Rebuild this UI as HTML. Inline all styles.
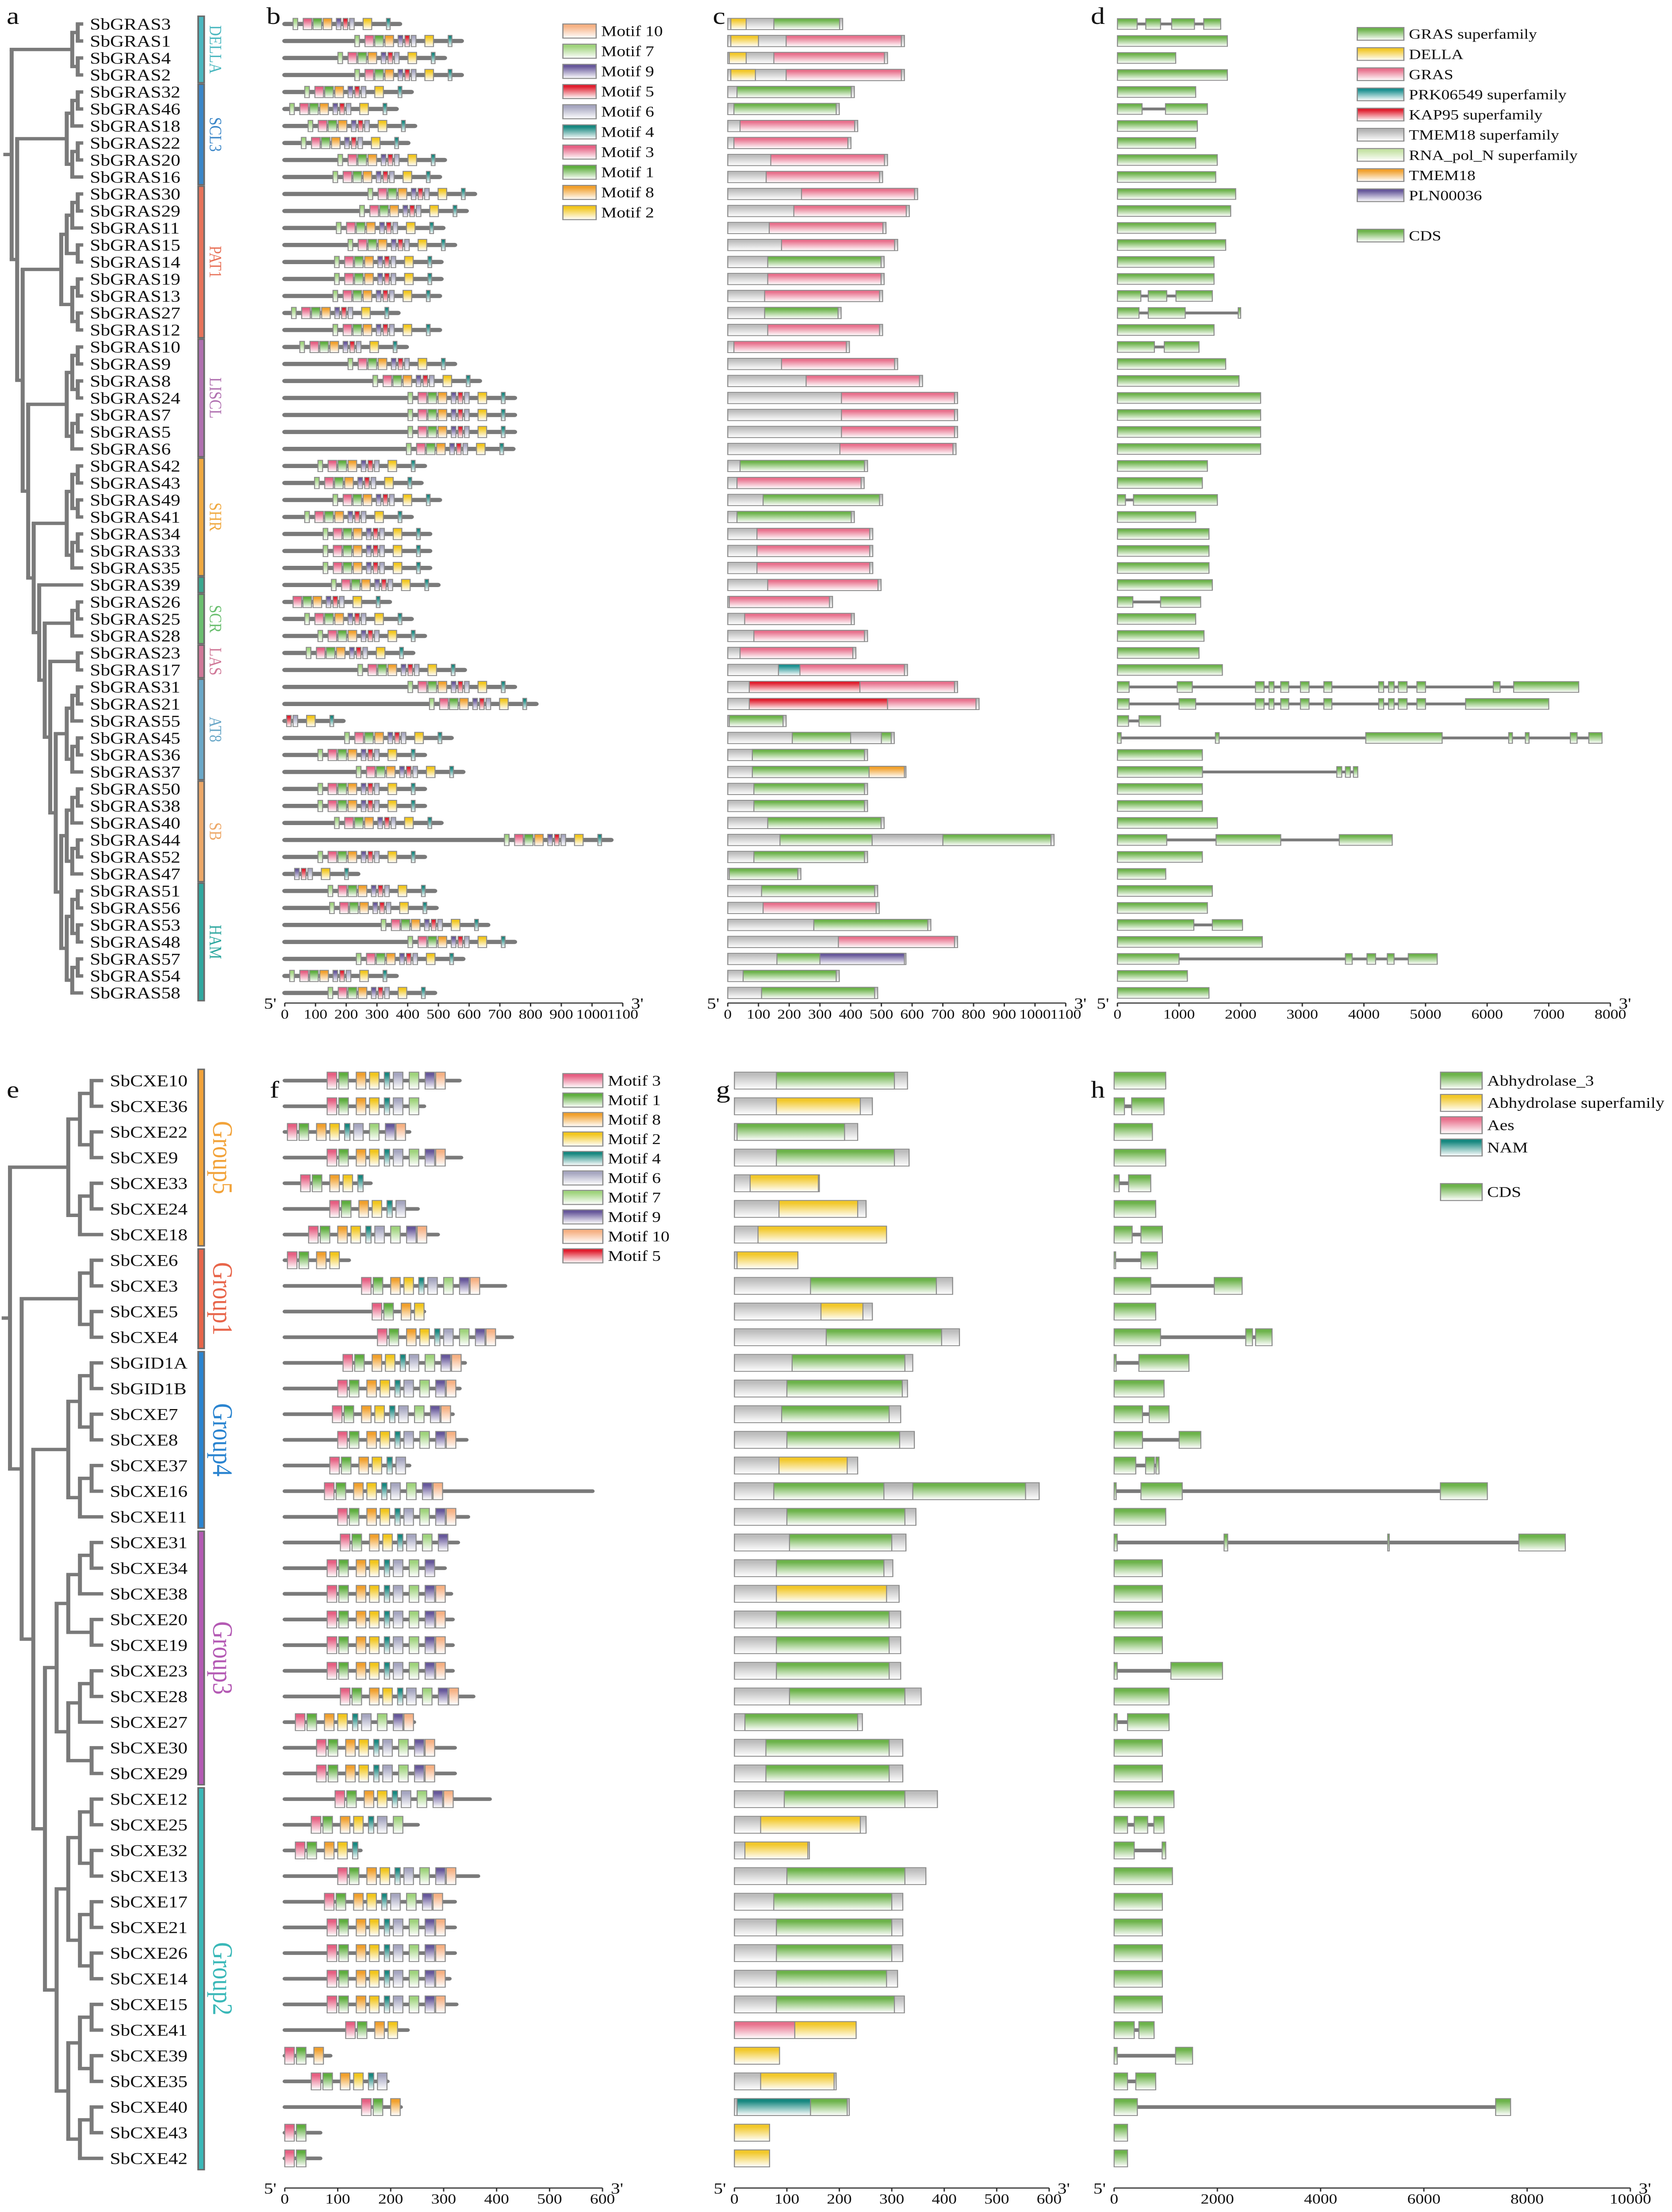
<!DOCTYPE html>
<html><head><meta charset="utf-8"><title>SbGRAS and SbCXE gene families: phylogeny, motifs, domains and gene structures</title>
<style>
html,body{margin:0;padding:0;background:#fff;width:100vw;height:100vh;overflow:hidden;}
svg{display:block;position:absolute;left:0;top:0;width:100vw;height:100vh;font-family:"Liberation Serif",serif;}
</style></head>
<body>
<svg id="fig" xmlns="http://www.w3.org/2000/svg" viewBox="0 0 1004 1568" preserveAspectRatio="none">
<defs id="defs"></defs>
<g id="root"></g>
</svg>
<script>
// ---------- TOP (GRAS) DATA ----------
const grasNames=["SbGRAS3","SbGRAS1","SbGRAS4","SbGRAS2","SbGRAS32","SbGRAS46","SbGRAS18","SbGRAS22","SbGRAS20","SbGRAS16","SbGRAS30","SbGRAS29","SbGRAS11","SbGRAS15","SbGRAS14","SbGRAS19","SbGRAS13","SbGRAS27","SbGRAS12","SbGRAS10","SbGRAS9","SbGRAS8","SbGRAS24","SbGRAS7","SbGRAS5","SbGRAS6","SbGRAS42","SbGRAS43","SbGRAS49","SbGRAS41","SbGRAS34","SbGRAS33","SbGRAS35","SbGRAS39","SbGRAS26","SbGRAS25","SbGRAS28","SbGRAS23","SbGRAS17","SbGRAS31","SbGRAS21","SbGRAS55","SbGRAS45","SbGRAS36","SbGRAS37","SbGRAS50","SbGRAS38","SbGRAS40","SbGRAS44","SbGRAS52","SbGRAS47","SbGRAS51","SbGRAS56","SbGRAS53","SbGRAS48","SbGRAS57","SbGRAS54","SbGRAS58"];
const grasProtLen=[374,575,520,575,412,363,423,401,520,504,618,591,515,553,509,509,504,369,504,396,553,634,748,748,748,743,455,444,504,412,472,472,472,499,341,412,455,417,585,748,818,190,542,455,580,455,455,509,1062,455,238,488,493,661,748,580,363,488];
const grasDomStart=[150,190,150,190,30,20,40,20,140,125,240,215,135,175,130,130,120,120,130,20,175,255,370,370,370,365,40,30,115,30,95,95,95,130,5,55,85,40,200,430,520,5,210,80,80,85,85,130,700,85,5,110,115,280,360,160,50,110];
const grasDomType=["G","P","P","P","G","G","P","P","P","P","P","P","P","P","G","P","P","G","P","P","P","P","P","P","P","P","G","P","G","G","P","P","P","P","P","P","P","P","P","P","P","G","G","G","G","G","G","G","G","G","G","G","P","G","P","G","G","G"];
const grasExtraGene=["SbGRAS3","SbGRAS1","SbGRAS4","SbGRAS2","SbGRAS17","SbGRAS31","SbGRAS21","SbGRAS37","SbGRAS44","SbGRAS44","SbGRAS45","SbGRAS57"];
const grasExtraType=["D","D","D","D","T","K","K","O","G","S","S","U"];
const grasExtraStart=[10,10,5,10,165,70,70,460,170,470,400,300];
const grasExtraEnd=[60,100,60,90,235,430,520,575,470,700,500,575];
const grasGeneLen=[1676,1784,946,1784,1270,1460,1297,1270,1620,1595,1919,1838,1595,1757,1568,1568,1540,2000,1568,1324,1757,1973,2324,2324,2324,2324,1460,1378,1622,1270,1486,1486,1486,1540,1351,1270,1405,1324,1703,7486,7000,700,7865,1378,3900,1378,1378,1622,4460,1378,784,1540,1460,2030,2351,5190,1135,1486];
const grasExons={
"SbGRAS3":[[0,320],[460,700],[880,1250],[1400,1676]],
"SbGRAS46":[[0,400],[780,1460]],
"SbGRAS13":[[0,380],[500,800],[950,1540]],
"SbGRAS27":[[0,350],[500,1100],[1960,2000]],
"SbGRAS10":[[0,600],[760,1324]],
"SbGRAS26":[[0,250],[700,1351]],
"SbGRAS49":[[0,130],[260,1622]],
"SbGRAS31":[[0,190],[970,1215],[2240,2380],[2460,2540],[2650,2780],[2970,3110],[3350,3480],[4240,4320],[4400,4490],[4560,4700],[4860,5000],[6100,6210],[6430,7486]],
"SbGRAS21":[[0,190],[1000,1270],[2240,2380],[2460,2540],[2650,2780],[2970,3110],[3350,3480],[4240,4320],[4400,4490],[4560,4700],[4860,5000],[5650,7000]],
"SbGRAS45":[[0,60],[1590,1650],[4030,5270],[6350,6410],[6620,6680],[7350,7460],[7650,7865]],
"SbGRAS37":[[0,1380],[3560,3640],[3700,3780],[3830,3900]],
"SbGRAS44":[[0,800],[1600,2650],[3600,4460]],
"SbGRAS57":[[0,1000],[3700,3810],[4050,4190],[4380,4490],[4720,5190]],
"SbGRAS53":[[0,1240],[1540,2030]],
"SbGRAS55":[[0,180],[350,700]]
};
const grasMotifIds=[7,3,1,8,9,5,6,2,4];
const grasMotifFromEnd=[347,314,282,249,206,184,163,119,43];
const grasMotifLen=[15,28,28,28,15,15,15,28,12];
const grasClades=[["DELLA",0,3,"#4bb8c0"],["SCL3",4,9,"#3a86c8"],["PAT1",10,18,"#e8735a"],["LISCL",19,25,"#b070b0"],["SHR",26,32,"#f0a940"],["",33,33,"#3aa890"],["SCR",34,36,"#6bbf70"],["LAS",37,38,"#d07898"],["AT8",39,44,"#6aa8c8"],["SB",45,50,"#eda868"],["HAM",51,57,"#30a8a0"]];
const topAxisTicks=[0,100,200,300,400,500,600,700,800,900,1000,1100];
const geneAxisTicks=[0,1000,2000,3000,4000,5000,6000,7000,8000];

// ---------- BOTTOM (CXE) DATA ----------
const cxeNames=["SbCXE10","SbCXE36","SbCXE22","SbCXE9","SbCXE33","SbCXE24","SbCXE18","SbCXE6","SbCXE3","SbCXE5","SbCXE4","SbGID1A","SbGID1B","SbCXE7","SbCXE8","SbCXE37","SbCXE16","SbCXE11","SbCXE31","SbCXE34","SbCXE38","SbCXE20","SbCXE19","SbCXE23","SbCXE28","SbCXE27","SbCXE30","SbCXE29","SbCXE12","SbCXE25","SbCXE32","SbCXE13","SbCXE17","SbCXE21","SbCXE26","SbCXE14","SbCXE15","SbCXE41","SbCXE39","SbCXE35","SbCXE40","SbCXE43","SbCXE42"];
const cxeProtLen=[330,263,235,333,162,251,289,121,416,263,429,340,330,317,343,235,581,346,327,302,314,317,317,317,356,244,321,321,387,251,143,365,321,321,321,311,324,232,86,194,219,67,67];
const cxeDomStart=[80,80,5,80,30,85,45,5,145,165,175,110,100,90,100,85,75,100,105,80,80,80,80,80,105,20,60,60,95,50,20,100,75,80,80,80,80,115,0,50,145,0,0];
const cxeDomEnd=[305,240,210,305,160,235,290,121,385,245,395,325,320,295,315,215,555,325,300,285,290,295,295,295,325,235,295,295,325,240,140,325,300,300,300,290,305,232,86,190,215,67,67];
const cxeDomType=["G","Y","G","G","Y","Y","Y","Y","G","Y","G","G","G","G","G","Y","G","G","G","G","Y","G","G","G","G","G","G","G","G","Y","Y","G","G","G","G","G","G","Y","Y","Y","G","Y","Y"];
const cxeExtraGene=["SbCXE16","SbCXE41","SbCXE40"];
const cxeExtraType=["S","A","N"];
const cxeExtraStart=[285,0,5];
const cxeExtraEnd=[340,115,145];
const cxeGeneLen=[1000,968,742,1000,710,806,935,840,2480,806,3060,1450,968,1065,1680,870,7230,1000,8740,935,935,935,935,2100,1065,1065,935,935,1160,968,1000,1130,935,935,935,935,935,775,1520,806,7680,260,260];
const cxeExons={
"SbCXE36":[[0,200],[340,968]],
"SbCXE33":[[0,100],[280,710]],
"SbCXE18":[[0,350],[520,935]],
"SbCXE6":[[0,30],[520,840]],
"SbCXE3":[[0,710],[1940,2480]],
"SbCXE4":[[0,900],[2550,2680],[2740,3060]],
"SbGID1A":[[0,40],[480,1450]],
"SbCXE7":[[0,550],[680,1065]],
"SbCXE8":[[0,550],[1260,1680]],
"SbCXE37":[[0,420],[610,780],[810,870]],
"SbCXE16":[[0,40],[520,1320],[6320,7230]],
"SbCXE31":[[0,60],[2130,2200],[5300,5330],[7840,8740]],
"SbCXE23":[[0,60],[1100,2100]],
"SbCXE27":[[0,60],[260,1065]],
"SbCXE25":[[0,260],[390,650],[770,968]],
"SbCXE32":[[0,390],[930,1000]],
"SbCXE41":[[0,390],[480,775]],
"SbCXE39":[[0,60],[1190,1520]],
"SbCXE35":[[0,260],[420,806]],
"SbCXE40":[[0,450],[7390,7680]]
};
const cxeMotifIds=[3,1,8,2,4,6,7,9,10];
const cxeMotifFromDom=[0,22,55,80,108,125,155,185,205];
const cxeMotifLen=[18,18,18,18,10,18,18,18,18];
const cxeClades=[["Group5",0,6,"#f2a33a"],["Group1",7,10,"#e8654a"],["Group4",11,17,"#2a84d0"],["Group3",18,27,"#b45ab4"],["Group2",28,42,"#3ab8b8"]];
const cxeAxisTicks=[0,100,200,300,400,500,600];
const cxeGeneTicks=[0,2000,4000,6000,8000,10000];

// ---------- STYLE ----------
const motifColor={10:"#f6b183",7:"#9fd37c",9:"#66579a",5:"#e01e2e",6:"#a6a6c0",4:"#16877f",3:"#e65f82",1:"#5eae3e",8:"#f1a02c",2:"#f2c61c"};
const domColor={G:"#6cb34a",P:"#e8708c",D:"#f2c82a",T:"#1a9090",K:"#e01e2e",S:"#b4b4b4",R:"#c5e2a4",O:"#f1a02c",U:"#66579a",Y:"#f2c82a",A:"#e8708c",N:"#16877f",X:"#bdbdbd",C:"#6cb34a"};
const NS="http://www.w3.org/2000/svg";
const root=document.getElementById('root');
const defs=document.getElementById('defs');
function mk(tag,attrs,parent){const e=document.createElementNS(NS,tag);for(const k in attrs)e.setAttribute(k,attrs[k]);(parent||root).appendChild(e);return e;}
function grad(id,c){const g=mk('linearGradient',{id:id,x1:0,y1:0,x2:0,y2:1},defs);mk('stop',{offset:'0',"stop-color":c},g);mk('stop',{offset:'0.15',"stop-color":c},g);mk('stop',{offset:'1',"stop-color":'#ffffff'},g);}
for(const k in motifColor)grad('m'+k,motifColor[k]);
for(const k in domColor)grad('d'+k,domColor[k]);
function box(x,y,w,h,fillId,name){const r=mk('rect',{x:x,y:y,width:Math.max(w,0.6),height:h,fill:'url(#'+fillId+')',stroke:'#8a8a8a','stroke-width':0.6});


return r;}
function txt(x,y,s,size,opts){const t=mk('text',Object.assign({x:x,y:y,'font-size':size,fill:'#111'},opts||{}));t.textContent=s;return t;}

const letters=[["a",4,17],["b",160,17],["c",428,17],["d",655,17],["e",4,778],["f",162,778],["g",430,778],["h",655,778]];
letters.forEach(l=>{const t=txt(l[1],l[2],l[0],17);

});

function drawTree(n,rowY,clades,leafX,rootX,prefix){
  function build(lo,hi){if(lo===hi)return {y:rowY(lo),h:0,leaf:true};const m=Math.floor((lo+hi)/2);const a=build(lo,m),b=build(m+1,hi);return {a:a,b:b,y:(a.y+b.y)/2,h:Math.max(a.h,b.h)+1};}
  const cl=clades.map(c=>build(c[1],c[2]));
  let node=cl[cl.length-1];
  for(let i=cl.length-2;i>=0;i--){const a=cl[i];node={a:a,b:node,y:(a.y+node.y)/2,h:Math.max(a.h,node.h)+1};}
  const maxH=node.h;const X=h=>leafX-h*(leafX-rootX)/maxH;
  const g=mk('g',{stroke:'#7a7a7a','stroke-width':2.4,fill:'none'});
  
  
  function draw(nd){if(nd.leaf)return;const x=X(nd.h);
    mk('line',{x1:x,y1:nd.a.y,x2:x,y2:nd.b.y},g);
    [nd.a,nd.b].forEach(c=>{mk('line',{x1:x-1.2,y1:c.y,x2:c.leaf?leafX:X(c.h),y2:c.y},g);draw(c);});}
  draw(node);
  mk('line',{x1:rootX-5,y1:node.y,x2:rootX,y2:node.y},g);
}

const topY=i=>17+i*12.05;
const bx=a=>171+a*0.1845, cx=a=>437+a*0.1845, dx=b=>671+b*0.037;
drawTree(grasNames.length,topY,grasClades,50,7,'gras');
grasNames.forEach((nm,i)=>{const y=topY(i);
  const t=txt(54,y+4,nm,11.5);
  
  
  const L=grasProtLen[i];
  const ln=mk('line',{x1:bx(0),y1:y,x2:bx(L),y2:y,stroke:'#7a7a7a','stroke-width':3,'stroke-linecap':'round'});
  
  
  grasMotifIds.forEach((m,k)=>{const s=L-grasMotifFromEnd[k];if(s<0)return;
    box(bx(s),y-4,grasMotifLen[k]*0.1845,8,'m'+m,'motif-'+m+'-'+nm.toLowerCase());});
  box(cx(0),y-4,L*0.1845,8,'dX','protein-box-'+nm.toLowerCase());
  box(cx(grasDomStart[i]),y-4,(L-10-grasDomStart[i])*0.1845,8,'d'+grasDomType[i],'domain-'+nm.toLowerCase());
  grasExtraGene.forEach((g,k)=>{if(g!==nm)return;box(cx(grasExtraStart[k]),y-4,(grasExtraEnd[k]-grasExtraStart[k])*0.1845,8,'d'+grasExtraType[k],'extra-domain-'+nm.toLowerCase());});
  const GL=grasGeneLen[i];const ex=grasExons[nm]||[[0,GL]];
  if(ex.length>1){const il=mk('line',{x1:dx(0),y1:y,x2:dx(GL),y2:y,stroke:'#7a7a7a','stroke-width':2});
    
    }
  ex.forEach((e,k)=>box(dx(e[0]),y-3.8,(e[1]-e[0])*0.037,7.6,'dC','exon-'+(k+1)+'-'+nm.toLowerCase()));
});
grasClades.forEach(c=>{const y1=topY(c[1])-5.5,y2=topY(c[2])+5.5;
  const r=mk('rect',{x:119,y:y1,width:3.6,height:y2-y1,fill:c[3],stroke:'#6a6a6a','stroke-width':1});
  
  
  if(c[0]){const t=txt(0,0,c[0],10.5,{fill:c[3],'text-anchor':'middle',transform:'translate(126,'+((y1+y2)/2)+') rotate(90)'});
  
  }
});

function axis(x0,x1,y,ticks,map,name,fs){const g=mk('g',{});
  
  
  mk('line',{x1:x0,y1:y,x2:x1,y2:y,stroke:'#333','stroke-width':0.8},g);
  ticks.forEach(v=>{const x=map(v);mk('line',{x1:x,y1:y,x2:x,y2:y+2.5,stroke:'#333','stroke-width':0.8},g);
    const t=mk('text',{x:x,y:y+11,'font-size':fs,'text-anchor':'middle',fill:'#111'},g);t.textContent=v;});
  const a=mk('text',{x:x0-5,y:y+4,'font-size':11,'text-anchor':'end',fill:'#111'},g);a.textContent="5'";
  const b=mk('text',{x:x1+5,y:y+4,'font-size':11,fill:'#111'},g);b.textContent="3'";}
axis(bx(0),bx(1100),711,topAxisTicks,bx,'x-axis-motifs-gras',9.5);
axis(cx(0),cx(1100),711,topAxisTicks,cx,'x-axis-domains-gras',9.5);
axis(dx(0),dx(8000),711,geneAxisTicks,dx,'x-axis-gene-gras',9.5);

function legend(x,y0,step,w,h,items,name,fs){const g=mk('g',{});
  
  
  items.forEach((it,i)=>{const y=y0+i*step;if(!it)return;
    mk('rect',{x:x,y:y-h/2,width:w,height:h,fill:'url(#'+it[0]+')',stroke:'#8a8a8a','stroke-width':0.7},g);
    const t=mk('text',{x:x+w+3,y:y+3.5,'font-size':fs,fill:'#111'},g);t.textContent=it[1];});}
legend(338,22,14.3,20,10,[["m10","Motif 10"],["m7","Motif 7"],["m9","Motif 9"],["m5","Motif 5"],["m6","Motif 6"],["m4","Motif 4"],["m3","Motif 3"],["m1","Motif 1"],["m8","Motif 8"],["m2","Motif 2"]],'legend-motifs-gras',10.5);
legend(815,24,14.3,28,9,[["dG","GRAS superfamily"],["dD","DELLA"],["dP","GRAS"],["dT","PRK06549 superfamily"],["dK","KAP95 superfamily"],["dS","TMEM18 superfamily"],["dR","RNA_pol_N superfamily"],["dO","TMEM18"],["dU","PLN00036"],null,["dC","CDS"]],'legend-domains-gras',10);

const botY=i=>766+i*18.19;
const fx=a=>171+a*0.318, gx=a=>441+a*0.315, hx=b=>669+b*0.031;
drawTree(cxeNames.length,botY,cxeClades,62,6,'cxe');
cxeNames.forEach((nm,i)=>{const y=botY(i);
  const t=txt(66,y+4,nm,11.5);
  
  
  const L=cxeProtLen[i];
  const ln=mk('line',{x1:fx(0),y1:y,x2:fx(L),y2:y,stroke:'#7a7a7a','stroke-width':2.6,'stroke-linecap':'round'});
  
  
  cxeMotifIds.forEach((m,k)=>{const s=cxeDomStart[i]+cxeMotifFromDom[k];if(s+cxeMotifLen[k]>L)return;
    box(fx(s),y-6,cxeMotifLen[k]*0.318,12,'m'+m,'motif-'+m+'-'+nm.toLowerCase());});
  box(gx(0),y-6,L*0.315,12,'dX','protein-box-'+nm.toLowerCase());
  box(gx(cxeDomStart[i]),y-6,(cxeDomEnd[i]-cxeDomStart[i])*0.315,12,'d'+cxeDomType[i],'domain-'+nm.toLowerCase());
  cxeExtraGene.forEach((g,k)=>{if(g!==nm)return;box(gx(cxeExtraStart[k]),y-6,(cxeExtraEnd[k]-cxeExtraStart[k])*0.315,12,'d'+cxeExtraType[k],'extra-domain-'+nm.toLowerCase());});
  const GL=cxeGeneLen[i];const ex=cxeExons[nm]||[[0,GL]];
  if(ex.length>1){const il=mk('line',{x1:hx(0),y1:y,x2:hx(GL),y2:y,stroke:'#7a7a7a','stroke-width':2.6});
    
    }
  ex.forEach((e,k)=>box(hx(e[0]),y-6,(e[1]-e[0])*0.031,12,'dC','exon-'+(k+1)+'-'+nm.toLowerCase()));
});
cxeClades.forEach(c=>{const y1=botY(c[1])-8,y2=botY(c[2])+8;
  const r=mk('rect',{x:119,y:y1,width:3.6,height:y2-y1,fill:c[3],stroke:'#6a6a6a','stroke-width':1});
  
  
  const t=txt(0,0,c[0],17,{fill:c[3],'text-anchor':'middle',transform:'translate(128,'+((y1+y2)/2)+') rotate(90)'});
  
  
});
axis(fx(0),fx(600),1551,cxeAxisTicks,fx,'x-axis-motifs-cxe',10);
axis(gx(0),gx(600),1551,cxeAxisTicks,gx,'x-axis-domains-cxe',10);
axis(hx(0),hx(10000),1551,cxeGeneTicks,hx,'x-axis-gene-cxe',10);
legend(338,766,13.8,24,10,[["m3","Motif 3"],["m1","Motif 1"],["m8","Motif 8"],["m2","Motif 2"],["m4","Motif 4"],["m6","Motif 6"],["m7","Motif 7"],["m9","Motif 9"],["m10","Motif 10"],["m5","Motif 5"]],'legend-motifs-cxe',10.5);
legend(865,766,15.8,25,12,[["dG","Abhydrolase_3"],["dY","Abhydrolase superfamily"],["dA","Aes"],["dN","NAM"],null,["dC","CDS"]],'legend-domains-cxe',10.5);
</script>
</body></html>
